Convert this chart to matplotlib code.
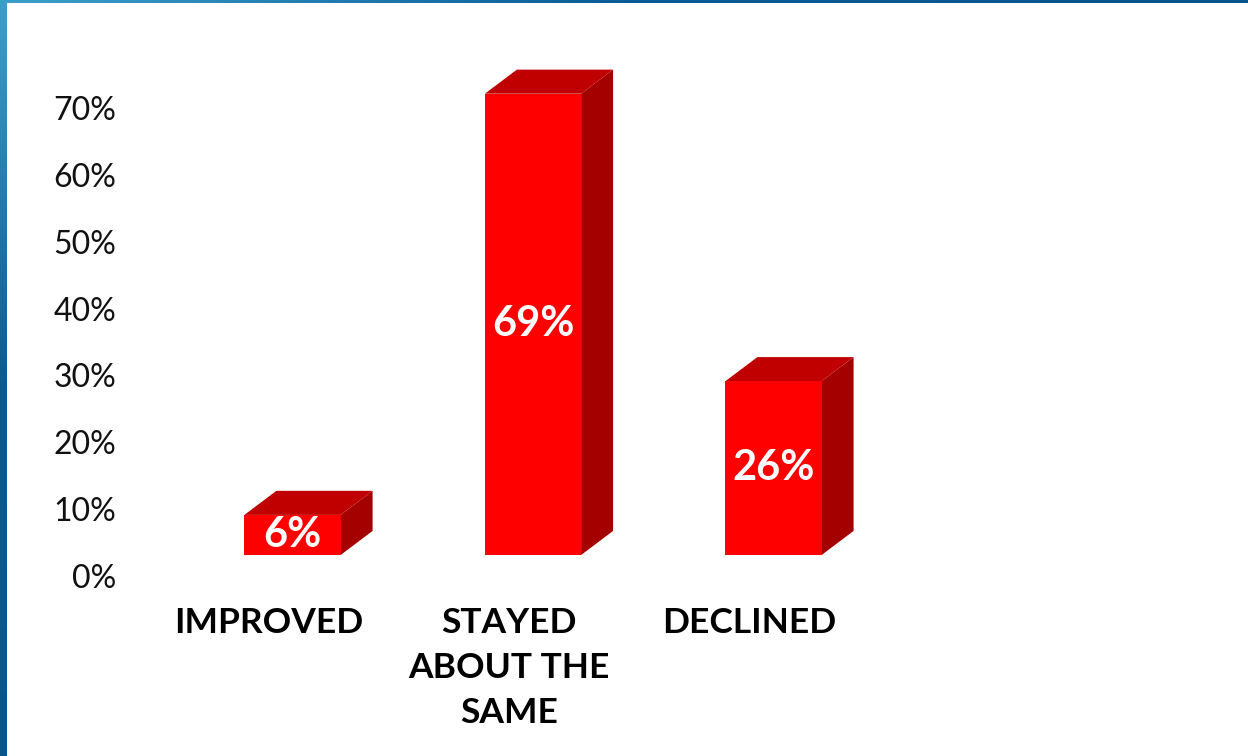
import numpy as np
import matplotlib
matplotlib.use("Agg")
import matplotlib.pyplot as plt
from matplotlib.patches import Polygon

# --- datos ---
categorias = ["IMPROVED", "STAYED\nABOUT THE\nSAME", "DECLINED"]
valores = [6, 69, 26]
etiquetas = ["6%", "69%", "26%"]
ticks_y = [0, 10, 20, 30, 40, 50, 60, 70]

# --- estilo ---
ROJO_FRENTE = "#FF0000"
ROJO_TECHO = "#C00000"
ROJO_LADO = "#A50000"
ANCHO = 0.40       # ancho de la cara frontal (unidades de categoria)
BASE = 3.14        # la cara frontal arranca por encima del 0 (efecto 3D)
PROF_X = 0.133     # desplazamiento de profundidad
PROF_Y = 3.6

plt.rcParams["font.family"] = ["Lato", "DejaVu Sans"]

W, H = 1248, 756
fig = plt.figure(figsize=(W / 100, H / 100), dpi=100)
fig.patch.set_facecolor("white")

# ejes en pixeles: izq 140, der 1100, arriba 60, abajo 590
L, R, T, B = 140, 1100, 60, 590
ax = fig.add_axes([L / W, (H - B) / H, (R - L) / W, (B - T) / H])
px_por_pct = (576 - 108) / 70.0
px_por_cat = 240.5
ax.set_ylim((576 - B) / px_por_pct, (576 - T) / px_por_pct)
ax.set_xlim((L - 292.5) / px_por_cat, (R - 292.5) / px_por_cat)

for i, v in enumerate(valores):
    x0 = i - ANCHO / 2
    x1 = i + ANCHO / 2
    y0 = BASE
    y1 = BASE + v
    # cara lateral
    ax.add_patch(Polygon([(x1, y0), (x1 + PROF_X, y0 + PROF_Y), (x1 + PROF_X, y1 + PROF_Y), (x1, y1)],
                         closed=True, facecolor=ROJO_LADO, edgecolor="none", zorder=2))
    # techo
    ax.add_patch(Polygon([(x0, y1), (x0 + PROF_X, y1 + PROF_Y), (x1 + PROF_X, y1 + PROF_Y), (x1, y1)],
                         closed=True, facecolor=ROJO_TECHO, edgecolor="none", zorder=2))
    # frente
    ax.add_patch(Polygon([(x0, y0), (x1, y0), (x1, y1), (x0, y1)],
                         closed=True, facecolor=ROJO_FRENTE, edgecolor="none", zorder=3))
    ax.text(i, BASE + v / 2, etiquetas[i], color="white", fontsize=30, fontweight="bold",
            ha="center", va="center", zorder=4)

ax.set_yticks(ticks_y)
ax.set_yticklabels([f"{t}%" for t in ticks_y], fontsize=23, color="#111111")
ax.tick_params(axis="y", length=0, pad=17)

ax.set_xticks([i - 0.1 for i in range(len(categorias))])
ax.set_xticklabels(categorias, fontsize=25.5, fontweight="bold", color="black", linespacing=1.5)
ax.tick_params(axis="x", length=0, pad=12)
for lab in ax.get_xticklabels():
    lab.set_verticalalignment("top")

for s in ax.spines.values():
    s.set_visible(False)
ax.set_facecolor("none")

# --- marco azul (izquierda y arriba) ---
grad = np.linspace(0, 1, 256)
cmap = matplotlib.colors.LinearSegmentedColormap.from_list("marco", ["#3c9fcb", "#0b5b95", "#07558f"])
ax_izq = fig.add_axes([0, 0, 7 / W, 1])
ax_izq.imshow(grad.reshape(-1, 1), aspect="auto", cmap=cmap)
ax_izq.axis("off")
ax_sup = fig.add_axes([0, 1 - 3 / H, 1, 3 / H])
ax_sup.imshow(grad.reshape(1, -1), aspect="auto", cmap=cmap)
ax_sup.axis("off")

fig.savefig("out.png", dpi=100)
